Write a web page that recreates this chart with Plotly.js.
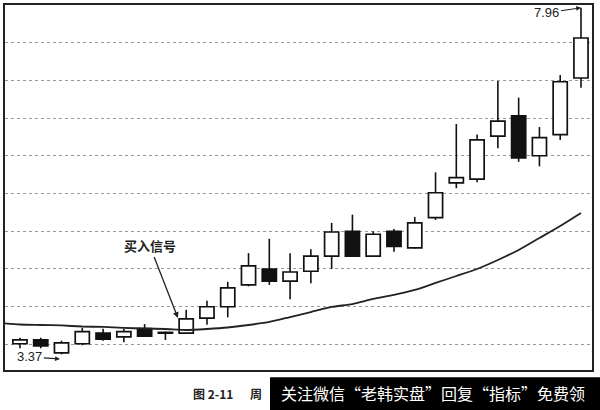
<!DOCTYPE html>
<html>
<head>
<meta charset="utf-8">
<script src="https://cdn.plot.ly/plotly-3.0.1.min.js"></script>
<style>html,body{margin:0;padding:0;background:#fff;}#chart{width:600px;height:410px;}</style>
</head>
<body>
<div id="chart"></div>
<script>
// Weekly candles (index = week number)
const weeks = [0,1,2,3,4,5,6,7,8,9,10,11,12,13,14,15,16,17,18,19,20,21,22,23,24,25,26,27];
const openP  = [3.51,3.56,3.39,3.51,3.65,3.60,3.71,3.65,3.65,3.85,4.00,4.29,4.50,4.34,4.47,4.67,5.00,4.67,5.00,4.78,5.18,5.64,5.69,6.26,6.53,6.00,6.28,7.03];
const highP  = [3.59,3.59,3.55,3.72,3.71,3.71,3.77,3.67,3.96,4.08,4.33,4.71,4.90,4.71,4.76,5.11,5.22,5.00,5.03,5.19,5.78,6.42,6.28,6.99,6.77,6.38,7.07,7.96];
const lowP   = [3.45,3.45,3.37,3.49,3.55,3.53,3.60,3.56,3.64,3.76,3.86,4.27,4.29,4.10,4.31,4.50,4.66,4.66,4.73,4.77,5.15,5.57,5.65,6.10,5.92,5.86,6.21,6.90];
const closeP = [3.56,3.48,3.52,3.67,3.57,3.67,3.61,3.66,3.84,4.00,4.25,4.54,4.34,4.46,4.67,4.99,4.67,4.96,4.80,5.11,5.51,5.71,6.21,6.46,5.97,6.24,6.98,7.56];
// Moving average line (starts one week before the first visible candle)
const maWeeks = [-1,0,1,2,3,4,5,6,7,8,9,10,11,12,13,14,15,16,17,18,19,20,21,22,23,24,25,26,27];
const maVals  = [3.785,3.765,3.758,3.752,3.738,3.732,3.719,3.712,3.705,3.692,3.705,3.725,3.758,3.798,3.864,3.930,3.997,4.036,4.103,4.156,4.222,4.315,4.407,4.500,4.619,4.752,4.911,5.070,5.242];
const gridVals = [3.5,4.0,4.5,5.0,5.5,6.0,6.5,7.0,7.5];
const highLabel = "7.96", lowLabel = "3.37", signalLabel = "买入信号";
const caption = "图 2-11", captionTail = "周";
const banner = "关注微信“老韩实盘”回复“指标”免费领";

// Build candle parts from the OHLC arrays
const bodyTop = weeks.map((_, i) => Math.max(openP[i], closeP[i]));
const bodyBot = weeks.map((_, i) => Math.min(openP[i], closeP[i]));
const bodyLen = weeks.map((_, i) => Math.max(bodyTop[i] - bodyBot[i], 0.004));
const bodyFill = weeks.map((_, i) => closeP[i] >= openP[i] ? '#ffffff' : '#111111');
const wx = [], wy = [];
weeks.forEach((w, i) => {
  wx.push(w, w, null, w, w, null);
  wy.push(highP[i], bodyTop[i], null, bodyBot[i], lowP[i], null);
});

const traces = [
  {
    type: 'scatter', mode: 'lines', x: wx, y: wy, connectgaps: false,
    line: {color: '#111', width: 1.6}, hoverinfo: 'skip', showlegend: false
  },
  {
    type: 'bar', x: weeks, y: bodyLen, base: bodyBot, width: 0.68,
    marker: {color: bodyFill, line: {color: '#111', width: 1.7}},
    hoverinfo: 'skip', showlegend: false
  },
  {
    type: 'scatter', mode: 'lines', x: maWeeks, y: maVals,
    line: {color: '#222', width: 1.8, shape: 'spline', smoothing: 0.6},
    hoverinfo: 'skip', showlegend: false
  }
];

const layout = {
  width: 600, height: 410,
  margin: {l: 5, r: 8, t: 5, b: 40},
  paper_bgcolor: '#fff', plot_bgcolor: '#fff',
  showlegend: false, bargap: 0,
  xaxis: {
    range: [-0.72, 27.53], showgrid: false, zeroline: false,
    showticklabels: false, ticks: '', showline: true, mirror: true,
    linecolor: '#222', linewidth: 2, fixedrange: true
  },
  yaxis: {
    range: [3.162, 7.997], tickmode: 'array', tickvals: gridVals,
    showticklabels: false, ticks: '', showgrid: true, gridcolor: '#9a9a9a',
    griddash: 'dot', gridwidth: 1, zeroline: false,
    showline: true, mirror: true, linecolor: '#222', linewidth: 2, fixedrange: true
  },
  shapes: [
    {type: 'rect', xref: 'paper', yref: 'paper', x0: 265/587, x1: 1.02, y0: -0.02, y1: -0.12, fillcolor: '#000', line: {width: 0}, layer: 'above'}
  ],
  annotations: [
    {x: 27, y: 7.96, xref: 'x', yref: 'y', text: highLabel, showarrow: true,
     arrowhead: 2, arrowsize: 0.8, arrowwidth: 1.2, arrowcolor: '#222', ax: -34, ay: 5,
     font: {family: 'Liberation Sans, Arial, sans-serif', size: 13, color: '#222'}},
    {x: 1.92, y: 3.308, xref: 'x', yref: 'y', text: lowLabel, showarrow: true,
     arrowhead: 2, arrowsize: 0.8, arrowwidth: 1.2, arrowcolor: '#222', ax: -30, ay: -2,
     font: {family: 'Liberation Sans, Arial, sans-serif', size: 13, color: '#222'}},
    {x: 7.6, y: 3.851, xref: 'x', yref: 'y', text: '<b>' + signalLabel + '</b>', showarrow: true,
     arrowhead: 2, arrowsize: 0.9, arrowwidth: 1.3, arrowcolor: '#222', ax: -28, ay: -72,
     font: {family: 'Noto Sans CJK SC, sans-serif', size: 13, color: '#222'}},
    {xref: 'paper', yref: 'paper', x: 208/587, y: -0.064, yanchor: 'middle', xanchor: 'center', showarrow: false,
     text: '<b>' + caption + '</b>', font: {family: 'Noto Sans CJK SC, DejaVu Serif, serif', size: 12, color: '#222'}},
    {xref: 'paper', yref: 'paper', x: 251/587, y: -0.064, yanchor: 'middle', xanchor: 'center', showarrow: false,
     text: '<b>' + captionTail + '</b>', font: {family: 'Noto Sans CJK SC, serif', size: 12, color: '#222'}},
    {xref: 'paper', yref: 'paper', x: 428/587, y: -0.064, yanchor: 'middle', xanchor: 'center', showarrow: false,
     text: banner, font: {family: 'Noto Sans CJK SC, sans-serif', size: 16, color: '#fff'}}
  ]
};

Plotly.newPlot('chart', traces, layout, {staticPlot: true, displayModeBar: false});
</script>
</body>
</html>
